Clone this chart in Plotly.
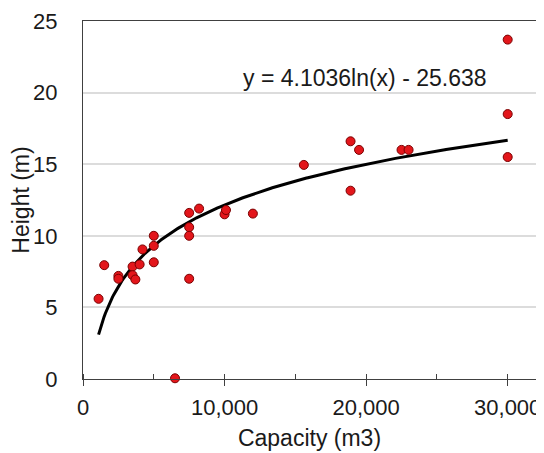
import numpy as np
import plotly.graph_objects as go

# Data
capacity = [1100, 1500, 2500, 2500, 3500, 3500, 3700, 4000, 4200, 5000, 5000, 5000,
            6500, 7500, 7500, 7500, 7500, 8200, 10000, 10100, 12000, 15600,
            18900, 19500, 18900, 22500, 23000, 30000, 30000, 30000]
height = [5.6, 7.95, 7.2, 7.0, 7.85, 7.25, 6.95, 8.0, 9.05, 10.0, 9.3, 8.15,
          0.05, 11.6, 10.6, 10.0, 7.0, 11.9, 11.5, 11.8, 11.55, 14.95,
          16.6, 16.0, 13.15, 16.0, 16.0, 23.7, 18.5, 15.5]

# Logarithmic trendline coefficients shown on the chart
coef_a = 4.1036
coef_b = -25.638
trend_label = "y = 4.1036ln(x) - 25.638"

x_ticks = [0, 10000, 20000, 30000]
x_ticklabels = ["0", "10,000", "20,000", "30,000"]
y_ticks = [0, 5, 10, 15, 20, 25]

tx = np.linspace(min(capacity), max(capacity), 300)
ty = coef_a * np.log(tx) + coef_b

FONT = "Liberation Sans, Arial, sans-serif"
TXT = "#1a1a1a"

fig = go.Figure()
fig.add_trace(go.Scatter(
    x=tx, y=ty, mode="lines",
    line=dict(color="black", width=3),
    hoverinfo="skip", showlegend=False))
fig.add_trace(go.Scatter(
    x=capacity, y=height, mode="markers",
    marker=dict(color="#e3161b", size=9, line=dict(color="#7a0000", width=1)),
    showlegend=False, cliponaxis=False))

fig.add_annotation(x=19930, y=21.05, text=trend_label, showarrow=False,
                   xanchor="center", yanchor="middle",
                   font=dict(family=FONT, size=23, color=TXT))

# The page body has an 8px default margin, so the figure is 8px smaller
fig.update_layout(
    width=536, height=445,
    margin=dict(l=75, r=8, t=13, b=74),
    paper_bgcolor="white", plot_bgcolor="white",
    font=dict(family=FONT, size=22, color=TXT),
)
fig.update_xaxes(
    range=[0, 32000], tickvals=x_ticks, ticktext=x_ticklabels,
    automargin=False,
    showgrid=False, zeroline=False,
    showline=True, linecolor="#404040", linewidth=1, mirror=True,
    ticks="outside", ticklen=6, tickcolor="#404040", ticklabelstandoff=3,
    minor=dict(dtick=5000, ticks="inside", ticklen=5, tickcolor="#404040", showgrid=False),
    tickfont=dict(family=FONT, size=22, color=TXT),
    title=dict(text="Capacity (m3)", font=dict(family=FONT, size=23, color=TXT), standoff=10),
)
fig.update_yaxes(
    range=[0, 25], tickvals=y_ticks,
    automargin=False,
    showgrid=True, gridcolor="#dcdcdc", gridwidth=1.5, zeroline=False,
    showline=True, linecolor="#404040", linewidth=1, mirror=True,
    ticks="", ticklabelstandoff=20,
    tickfont=dict(family=FONT, size=22, color=TXT),
    title=dict(text="Height (m)", font=dict(family=FONT, size=23, color=TXT), standoff=1),
)

fig.write_html("out.html")
